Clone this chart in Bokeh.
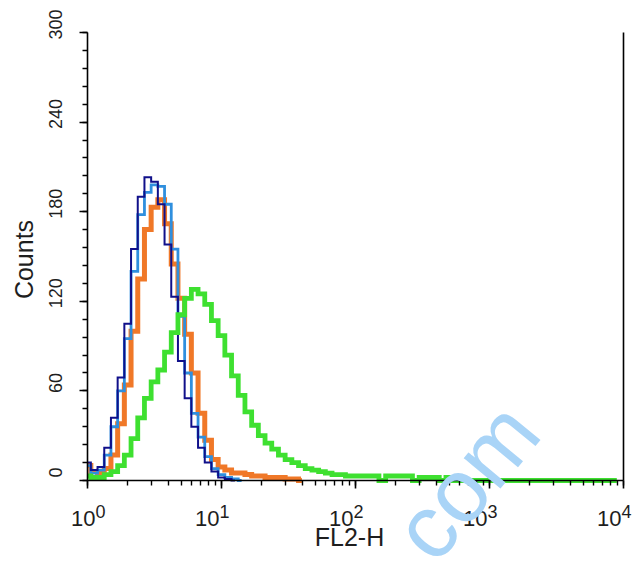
from bokeh.plotting import figure
from bokeh.models import Label, SingleIntervalTicker, LogTicker, Range1d, LinearAxis
from bokeh.embed import file_html
from bokeh.resources import INLINE
import numpy as np

# histogram channel width in decades of FL2-H (channel centres start at 10^0)
BIN_STEP = 0.05

# counts per channel
navy_counts = [12, 7, 9, 22, 42, 69, 105, 155, 190, 203, 200, 185, 158, 123, 80, 55,
               36, 22, 12, 6, 2, 1, 0]
lightblue_counts = [10, 5, 7, 17, 36, 60, 95, 140, 178, 193, 198, 197, 185, 155, 110, 72,
                    45, 29, 16, 8, 4, 2, 1, 0]
orange_counts = [10, 6, 5, 8, 17, 38, 64, 100, 135, 168, 183, 188, 172, 145, 122, 98,
                 72, 45, 27, 14, 9, 7, 5, 5, 4, 3, 3, 2, 2, 2, 1, 1, 0]
green_counts = [3, 2, 2, 4, 6, 10, 17, 28, 42, 55, 66, 74, 86, 99, 111, 122,
                128, 125, 118, 107, 97, 84, 70, 57, 46, 37, 30, 25, 21, 17,
                14, 12, 10, 8, 7, 6, 5, 4, 4, 3, 3, 3, 3, 3, 0, 3, 3, 3, 3, 0,
                2, 2, 2, 0, 2, 0, 0, 0, 0, 0, 0, 0, 0, 0, 0, 0, 0, 0, 0, 0,
                0, 0, 0, 0, 0, 0, 0, 0, 0, 0]

y_ticks = [0, 60, 120, 180, 240, 300]
x_decades = [0, 1, 2, 3, 4]
Y_MAX = 300

FONT = "Liberation Sans"
TXT = "#1e1e1e"

# layout in canvas pixels: the plotting frame covers the whole canvas and the axes
# are pinned inside it, so that every text around the axes can be drawn freely
W, H = 640, 563
AXIS_X0, AXIS_X1 = 87, 623      # pixel columns of 10^0 and 10^4
AXIS_Y0, AXIS_Y1 = 480, 32      # pixel rows of 0 and 300 counts
DECADE_PX = (AXIS_X1 - AXIS_X0) / x_decades[-1]
PX_PER_COUNT = (AXIS_Y0 - AXIS_Y1) / Y_MAX

x_lo = 10 ** (-AXIS_X0 / DECADE_PX)
x_hi = 10 ** (x_decades[-1] + (W - AXIS_X1) / DECADE_PX)
y_lo = -(H - AXIS_Y0) / PX_PER_COUNT
y_hi = Y_MAX + AXIS_Y1 / PX_PER_COUNT

p = figure(width=W, height=H, output_backend="svg", toolbar_location=None,
           x_axis_type="log", x_range=Range1d(x_lo, x_hi), y_range=Range1d(y_lo, y_hi),
           min_border=0)
p.outline_line_color = None
p.grid.visible = False
p.background_fill_color = "white"
p.border_fill_color = "white"


def series(counts):
    centres = 10 ** (np.arange(len(counts)) * BIN_STEP)
    return centres, list(counts)


for counts, color, w in [(orange_counts, "#f07828", 5.0),
                         (lightblue_counts, "#2f8fde", 2.8),
                         (navy_counts, "#10108a", 2.0),
                         (green_counts, "#3ee030", 4.8)]:
    xs, ys = series(counts)
    p.step(xs, ys, mode="center", line_color=color, line_width=w, line_join="miter")

# axes pinned at x = 10^0 and y = 0
yax = p.yaxis[0]
yax.fixed_location = 10 ** x_decades[0]
yax.ticker = SingleIntervalTicker(interval=60, num_minor_ticks=5)
yax.bounds = (0, Y_MAX)
yax.major_label_text_font_size = "0px"
yax.major_label_text_color = None

xax = p.xaxis[0]
xax.fixed_location = 0
xax.ticker = LogTicker(num_minor_ticks=10)
xax.bounds = (10 ** x_decades[0], 10 ** x_decades[-1])
xax.major_label_text_font_size = "0px"
xax.major_label_text_color = None

for ax in (xax, yax):
    ax.axis_line_color = "black"
    ax.axis_line_width = 1.6
    ax.major_tick_line_color = "black"
    ax.major_tick_line_width = 1.6
    ax.minor_tick_line_color = "black"
    ax.minor_tick_line_width = 1.4
    ax.major_tick_out = 8
    ax.major_tick_in = 0
    ax.minor_tick_out = 5
    ax.minor_tick_in = 0

# right frame line at 10^4
rax = LinearAxis(fixed_location=10 ** x_decades[-1], bounds=(0, Y_MAX),
                 axis_line_color="black", axis_line_width=1.6,
                 major_tick_line_color=None, minor_tick_line_color=None,
                 major_label_text_font_size="0px", major_label_text_color=None)
p.add_layout(rax, "right")

# y tick labels (rotated, sitting a little above their ticks as in the reference)
for t in y_ticks:
    p.add_layout(Label(x=55, x_units="screen", y=t + 8 / PX_PER_COUNT, text=str(t),
                       angle=np.pi / 2, text_align="center", text_baseline="middle",
                       text_font=FONT, text_font_size="18px", text_color=TXT))

# decade tick labels 10^k
for k in x_decades:
    shift = 8 if k == x_decades[0] else -2
    p.add_layout(Label(x=10 ** k, y=H - 525, y_units="screen", text="10", text_align="right",
                       x_offset=shift, text_font=FONT, text_font_size="22px", text_color=TXT))
    p.add_layout(Label(x=10 ** k, y=H - 517, y_units="screen", text=str(k), text_align="left",
                       x_offset=shift, text_font=FONT, text_font_size="18px", text_color=TXT))

# axis titles
p.add_layout(Label(x=349, y=H - 550, x_units="screen", y_units="screen", text="FL2-H",
                   text_align="center", text_font=FONT, text_font_size="25px", text_color=TXT))
p.add_layout(Label(x=23, y=H - 259, x_units="screen", y_units="screen", text="Counts",
                   angle=np.pi / 2, text_align="center", text_baseline="middle",
                   text_font=FONT, text_font_size="25px", text_color=TXT))

# watermark (cut by the bottom edge, as in the reference)
p.add_layout(Label(x=450, y=H - 578, x_units="screen", y_units="screen", text="com",
                   angle=0.88, text_font=FONT, text_font_size="90px",
                   text_color="#a9d4f7"))

open("out.html", "w").write(file_html(p, INLINE))
